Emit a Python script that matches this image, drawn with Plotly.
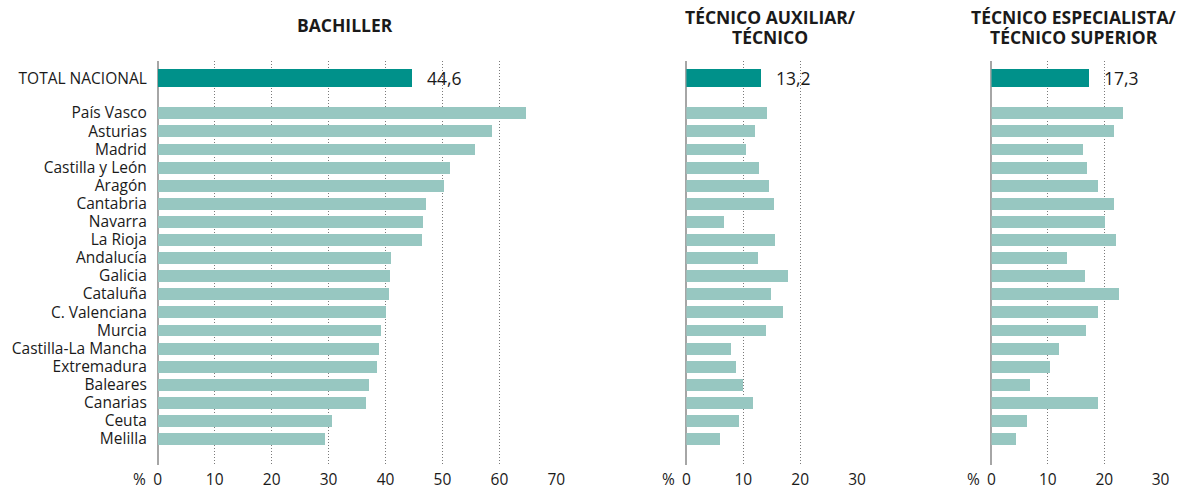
import plotly.graph_objects as go

regions = ["País Vasco", "Asturias", "Madrid", "Castilla y León", "Aragón", "Cantabria",
           "Navarra", "La Rioja", "Andalucía", "Galicia", "Cataluña", "C. Valenciana",
           "Murcia", "Castilla-La Mancha", "Extremadura", "Baleares", "Canarias", "Ceuta", "Melilla"]
total_label = "TOTAL NACIONAL"

bachiller_total = 44.6
bachiller = [64.7, 58.7, 55.7, 51.3, 50.2, 47.0, 46.5, 46.3, 40.9, 40.7, 40.5, 40.1,
             39.1, 38.9, 38.4, 37.0, 36.5, 30.5, 29.4]

aux_total = 13.2
aux = [14.2, 12.1, 10.5, 12.8, 14.6, 15.4, 6.7, 15.6, 12.6, 17.9, 14.9, 17.0,
       14.0, 7.9, 8.8, 10.0, 11.8, 9.3, 6.0]

esp_total = 17.3
esp = [23.4, 21.8, 16.4, 17.1, 19.0, 21.8, 20.2, 22.2, 13.5, 16.7, 22.7, 19.0,
       16.9, 12.1, 10.5, 7.0, 19.0, 6.3, 4.5]

titles = [["BACHILLER"], ["TÉCNICO AUXILIAR/", "TÉCNICO"],
          ["TÉCNICO ESPECIALISTA/", "TÉCNICO SUPERIOR"]]
x_ranges = [70, 30, 30]
x_ticks = [[0, 10, 20, 30, 40, 50, 60, 70], [0, 10, 20, 30], [0, 10, 20, 30]]
total_fmt = ["44,6", "13,2", "17,3"]

W, H = 1180, 490
DARK = "#00918a"
LIGHT = "#97c7c1"
TXT = "#1a1a1a"
FONT = "Open Sans"

# layout in pixels
panels_px = [(155.5, 558.5), (690, 862.5), (998.5, 1169.5)]
title_cx = [345, 775, 1082]
plot_top, plot_bot = 60.7, 465

total_pos = -1.93
region_pos = list(range(len(regions)))
y_positions = [total_pos] + region_pos
y_labels = [total_label] + regions
bar_widths = [0.99] + [0.66] * len(regions)
colors = [DARK] + [LIGHT] * len(regions)

fig = go.Figure()
series = [(bachiller_total, bachiller), (aux_total, aux), (esp_total, esp)]

for i, (tot, vals) in enumerate(series):
    xa = "x" if i == 0 else f"x{i+1}"
    ya = "y" if i == 0 else f"y{i+1}"
    fig.add_trace(go.Bar(
        x=[tot] + vals, y=y_positions, orientation="h",
        width=bar_widths, marker=dict(color=colors, line=dict(width=0)),
        xaxis=xa, yaxis=ya, showlegend=False, hoverinfo="x+y",
    ))

layout = dict(
    width=W, height=H,
    margin=dict(l=0, r=0, t=0, b=0),
    paper_bgcolor="white", plot_bgcolor="white",
    font=dict(family=FONT, color=TXT, size=15),
    bargap=0,
)

ydom = [1 - plot_bot / H, 1 - plot_top / H]
annotations = []
for i in range(3):
    suffix = "" if i == 0 else str(i + 1)
    x0, x1 = panels_px[i]
    layout["xaxis" + suffix] = dict(
        domain=[x0 / W, x1 / W], range=[0, x_ranges[i]],
        tickvals=x_ticks[i], ticktext=[str(t) for t in x_ticks[i]],
        showgrid=True, griddash="1px,2px", gridcolor="#7a7a7a", gridwidth=1,
        zeroline=True, zerolinecolor="#a6a6a6", zerolinewidth=2,
        showline=False, ticks="", ticklabelstandoff=3,
        tickfont=dict(size=15.5, color=TXT),
        anchor="y" + suffix, fixedrange=True,
    )
    layout["yaxis" + suffix] = dict(
        domain=ydom, range=[19.45, -2.89],
        tickvals=y_positions if i == 0 else [],
        ticktext=y_labels if i == 0 else [],
        showticklabels=(i == 0), showgrid=False, zeroline=False, showline=False,
        ticks="", ticklabelstandoff=10, tickfont=dict(size=15.5, color=TXT),
        anchor="x" + suffix, fixedrange=True,
    )
    lines = titles[i]
    ys = [24.7] if len(lines) == 1 else [17.5, 36.6]
    for line, py in zip(lines, ys):
        annotations.append(dict(
            text=line, x=title_cx[i] / W, y=1 - py / H, xref="paper", yref="paper",
            xanchor="center", yanchor="middle", showarrow=False, align="center",
            font=dict(size=17.5, color=TXT, family=FONT, weight="bold"),
        ))
    annotations.append(dict(
        text=total_fmt[i], x=series[i][0], y=total_pos,
        xref="x" + suffix, yref="y" + suffix, xanchor="left", yanchor="middle",
        xshift=13, showarrow=False, font=dict(size=17.5, color=TXT, family=FONT),
    ))
    annotations.append(dict(
        text="%", x=0, y=1 - 479 / H, xref="x" + suffix, yref="paper",
        xanchor="center", yanchor="middle", xshift=-18, showarrow=False,
        font=dict(size=15.5, color=TXT, family=FONT),
    ))

layout["annotations"] = annotations
fig.update_layout(**layout)
fig.write_html("out.html", config={"displayModeBar": False},
               post_script="document.body.style.margin='0';")
